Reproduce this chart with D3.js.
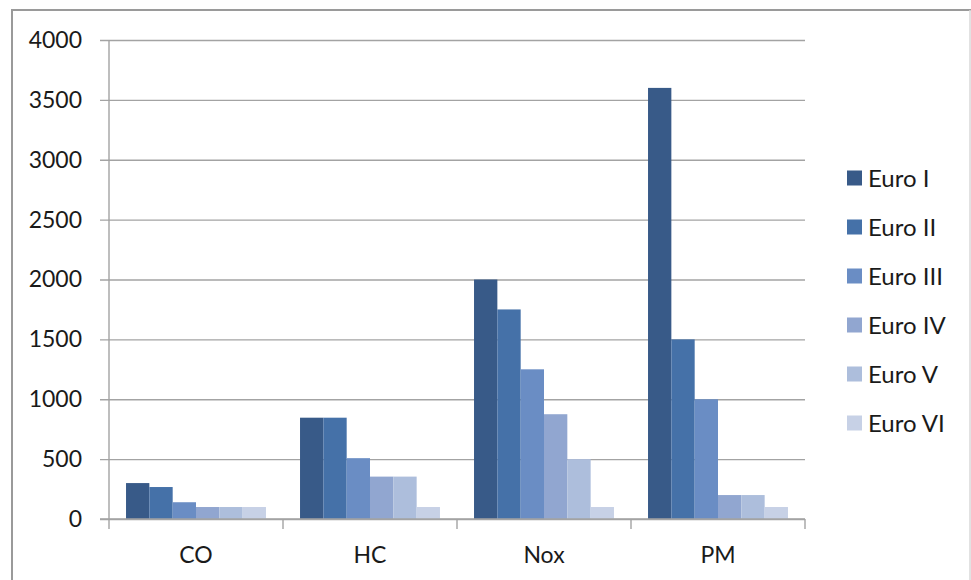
<!DOCTYPE html>
<html>
<head>
<meta charset="utf-8">
<script src="https://cdn.jsdelivr.net/npm/d3@7"></script>
<style>
  html, body { margin: 0; padding: 0; background: #ffffff; }
  svg { display: block; }
  text { font-family: Lato, "Open Sans", sans-serif; fill: #1a1a1a; }
</style>
</head>
<body>
<svg id="chart" width="971" height="580"></svg>
<script>
// Emission limits per pollutant, relative to Euro VI (= 100)
const categories = ["CO", "HC", "Nox", "PM"];
const seriesNames = ["Euro I", "Euro II", "Euro III", "Euro IV", "Euro V", "Euro VI"];
const euroI   = [300, 846, 2000, 3600];
const euroII  = [267, 846, 1750, 1500];
const euroIII = [140, 508, 1250, 1000];
const euroIV  = [100, 354, 875, 200];
const euroV   = [100, 354, 500, 200];
const euroVI  = [100, 100, 100, 100];
const seriesValues = [euroI, euroII, euroIII, euroIV, euroV, euroVI];
const yTicks = [0, 500, 1000, 1500, 2000, 2500, 3000, 3500, 4000];
const colors = ["#385a88", "#4571a8", "#6a8dc4", "#91a6d0", "#adbedc", "#c7d1e6"];

const svg = d3.select("#chart");

// Outer chart frame
svg.append("line").attr("x1", 12).attr("x2", 971).attr("y1", 10).attr("y2", 10)
  .attr("stroke", "#9a9a9a").attr("stroke-width", 2);
svg.append("line").attr("x1", 12).attr("x2", 12).attr("y1", 9).attr("y2", 580)
  .attr("stroke", "#9a9a9a").attr("stroke-width", 2);
svg.append("line").attr("x1", 970).attr("x2", 970).attr("y1", 10).attr("y2", 580)
  .attr("stroke", "#d8d8d8").attr("stroke-width", 1.5);

const plot = { left: 109, right: 805, top: 40, bottom: 519 };

const x0 = d3.scaleBand().domain(categories).range([plot.left, plot.right])
  .paddingInner(0).paddingOuter(0);
const x1 = d3.scaleBand().domain(seriesNames).range([0, x0.bandwidth()])
  .paddingInner(0).paddingOuter(0.73);
const y = d3.scaleLinear().domain([0, 4000]).range([plot.bottom, plot.top]);

// Horizontal gridlines with left tick marks
const yAxis = d3.axisLeft(y).tickValues(yTicks).tickFormat(d3.format("d"))
  .tickSize(-(plot.right - plot.left)).tickPadding(18);
const gy = svg.append("g").attr("transform", `translate(${plot.left},0)`).call(yAxis);
gy.select(".domain").remove();
gy.selectAll(".tick line").attr("stroke", "#a3a3a3").attr("stroke-width", 1.4)
  .attr("x1", -9);
gy.selectAll(".tick text").attr("font-size", 23).attr("fill", "#1a1a1a")
  .attr("font-family", "Lato, 'Open Sans', sans-serif").attr("x", -27);

// Vertical axis line
svg.append("line").attr("x1", plot.left).attr("x2", plot.left)
  .attr("y1", plot.top).attr("y2", plot.bottom)
  .attr("stroke", "#a3a3a3").attr("stroke-width", 1.4);

// Bars
const groups = svg.append("g").selectAll("g").data(categories).join("g")
  .attr("transform", d => `translate(${x0(d)},0)`);
groups.selectAll("rect")
  .data((c, ci) => seriesNames.map((s, si) => ({ s, si, v: seriesValues[si][ci] })))
  .join("rect")
  .attr("x", d => x1(d.s))
  .attr("width", x1.bandwidth())
  .attr("y", d => y(d.v))
  .attr("height", d => y(0) - y(d.v))
  .attr("fill", d => colors[d.si]);

// Category axis with tick marks at band boundaries
svg.append("line").attr("x1", plot.left - 9).attr("x2", plot.right)
  .attr("y1", plot.bottom).attr("y2", plot.bottom)
  .attr("stroke", "#a3a3a3").attr("stroke-width", 1.4);
const boundaries = categories.map(c => x0(c)).concat([x0(categories[categories.length - 1]) + x0.bandwidth()]);
svg.append("g").selectAll("line").data(boundaries).join("line")
  .attr("x1", d => d).attr("x2", d => d)
  .attr("y1", plot.bottom).attr("y2", plot.bottom + 10)
  .attr("stroke", "#a3a3a3").attr("stroke-width", 1.4);
svg.append("g").selectAll("text").data(categories).join("text")
  .attr("x", d => x0(d) + x0.bandwidth() / 2)
  .attr("y", 563)
  .attr("text-anchor", "middle")
  .attr("font-size", 23)
  .text(d => d);

// Legend
const legend = svg.append("g").selectAll("g").data(seriesNames).join("g")
  .attr("transform", (d, i) => `translate(847,${178 + i * 49})`);
legend.append("rect").attr("x", 0).attr("y", -7.5).attr("width", 15).attr("height", 15)
  .attr("fill", (d, i) => colors[i]);
legend.append("text").attr("x", 21).attr("y", 0).attr("dy", "0.36em")
  .attr("font-size", 24).text(d => d);
</script>
</body>
</html>
